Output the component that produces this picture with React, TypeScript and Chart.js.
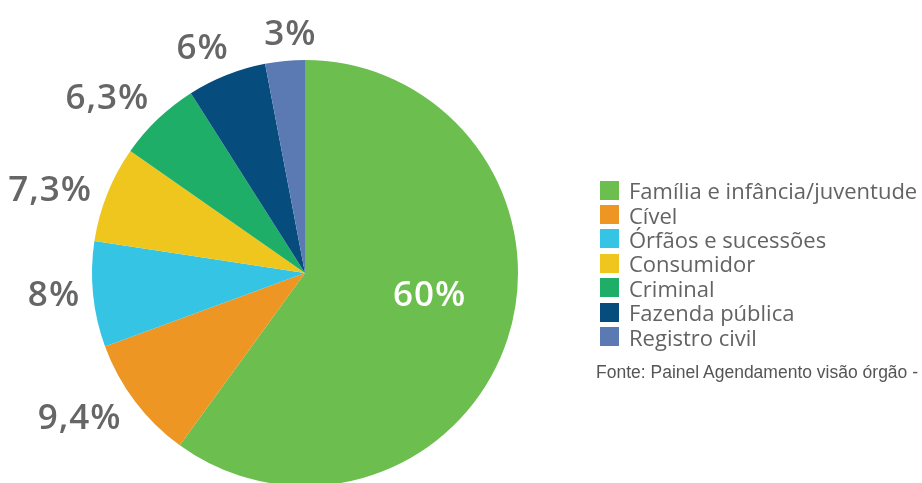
import React, { useEffect, useRef } from "react";
import { Chart, registerables } from "chart.js";

Chart.register(...registerables);

const categories = [
  "Família e infância/juventude",
  "Cível",
  "Órfãos e sucessões",
  "Consumidor",
  "Criminal",
  "Fazenda pública",
  "Registro civil",
];
const shares = [60, 9.4, 8, 7.3, 6.3, 6, 3];
const shareLabels = ["60%", "9,4%", "8%", "7,3%", "6,3%", "6%", "3%"];
const sliceColors = ["#6CBE4E", "#EE9623", "#35C4E4", "#EEC61D", "#1FAE68", "#064D7E", "#5B7AB4"];
const sourceNote = "Fonte: Painel Agendamento visão órgão - ";

// label styling (hand-tuned placement of the percentage labels, degrees)
const LABEL_FONT = "600 35px 'Open Sans'";
const labelAngleNudge = [-8.8, 4.7, 1.2, -3.4, -4.6, -2.9, 1.8];

const sliceLabelPlugin = {
  id: "sliceLabels",
  afterDatasetsDraw(chart: any) {
    const ctx = chart.ctx as CanvasRenderingContext2D;
    const meta = chart.getDatasetMeta(0);
    ctx.save();
    ctx.font = LABEL_FONT;
    try {
      (ctx as any).letterSpacing = "1px";
    } catch (e) {}
    ctx.textAlign = "left";
    ctx.textBaseline = "alphabetic";
    const capH = ctx.measureText("0").actualBoundingBoxAscent;
    meta.data.forEach((arc: any, i: number) => {
      const p = arc.getProps(["x", "y", "startAngle", "endAngle", "outerRadius"], true);
      const mid = (p.startAngle + p.endAngle) / 2 + (labelAngleNudge[i] * Math.PI) / 180;
      const c = Math.cos(mid);
      const s = Math.sin(mid);
      const text = shareLabels[i];
      const m = ctx.measureText(text);
      const w = m.actualBoundingBoxRight + m.actualBoundingBoxLeft;
      let cx: number;
      let cy: number;
      if (i === 0) {
        ctx.fillStyle = "#ffffff";
        cx = p.x + c * p.outerRadius * 0.59;
        cy = p.y + s * p.outerRadius * 0.59;
      } else {
        ctx.fillStyle = "#666666";
        const d = p.outerRadius + 14 + (Math.abs(c) * w) / 2 + (Math.abs(s) * capH) / 2;
        cx = p.x + c * d;
        cy = p.y + s * d;
      }
      ctx.fillText(text, cx - w / 2 + m.actualBoundingBoxLeft, cy + capH / 2);
    });
    ctx.restore();
  },
};

export default function App() {
  const canvasRef = useRef<HTMLCanvasElement | null>(null);

  useEffect(() => {
    document.body.style.margin = "0";
    const canvas = canvasRef.current;
    if (!canvas) return;
    const chart = new Chart(canvas, {
      type: "pie",
      data: {
        labels: categories,
        datasets: [
          {
            data: shares,
            backgroundColor: sliceColors,
            borderWidth: 0,
          },
        ],
      },
      options: {
        responsive: false,
        animation: false,
        layout: { padding: { top: 60, left: 92, right: 404, bottom: 4 } },
        plugins: {
          legend: { display: false },
          tooltip: { enabled: false },
        },
      },
      plugins: [sliceLabelPlugin],
    });
    return () => chart.destroy();
  }, []);

  return (
    <div
      style={{
        position: "relative",
        width: 922,
        height: 483,
        overflow: "hidden",
        background: "#ffffff",
      }}
    >
      <canvas ref={canvasRef} width={922} height={490} style={{ position: "absolute", left: 0, top: 0 }} />
      <div style={{ position: "absolute", left: 600, top: 178 }}>
        {categories.map((name, i) => (
          <div
            key={name}
            style={{ display: "flex", alignItems: "center", height: 24.4, whiteSpace: "nowrap" }}
          >
            <span style={{ width: 19, height: 19, background: sliceColors[i], display: "inline-block", flex: "none" }} />
            <span
              style={{
                marginLeft: 10,
                fontFamily: "'Open Sans', sans-serif",
                fontSize: 22,
                color: "#636363",
                lineHeight: "24px",
              }}
            >
              {name}
            </span>
          </div>
        ))}
      </div>
      <div
        style={{
          position: "absolute",
          left: 596,
          top: 362,
          fontFamily: "'Liberation Sans', Arial, sans-serif",
          fontSize: 17.5,
          color: "#555555",
          whiteSpace: "nowrap",
        }}
      >
        {sourceNote}
      </div>
    </div>
  );
}
